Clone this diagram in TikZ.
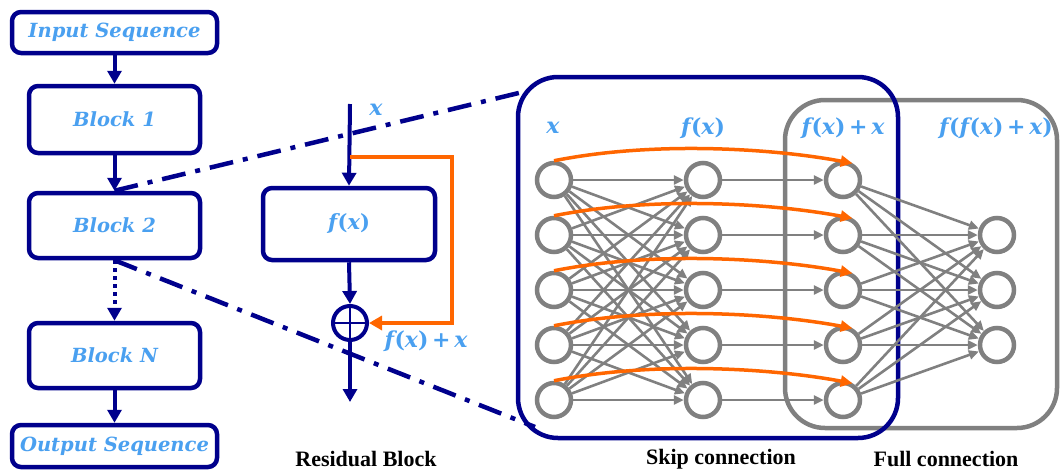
\documentclass[tikz,border=0pt]{standalone}
\usepackage{fontspec}
\newfontfamily\capfont{Liberation Serif}
\newfontfamily\blfont{DejaVu Serif}
\usetikzlibrary{arrows.meta,calc}
\definecolor{navyb}{RGB}{0,0,140}
\definecolor{skyt}{RGB}{74,160,240}
\definecolor{orng}{RGB}{255,102,0}
\definecolor{grayn}{RGB}{128,128,128}
% italic variables inside upright bold formulas
\newcommand\vf{{\itshape f\kern0.5pt}}
\newcommand\vx{{\itshape x}}
\newcommand\pl{\,+\,}
\begin{document}
\begin{tikzpicture}[x=1pt,y=-1pt,
  blk/.style={draw=navyb, line width=4.5pt, rounded corners=9pt, fill=white,
    text=skyt, inner sep=0pt, font=\fontsize{19.5}{24}\selectfont\blfont\bfseries\itshape},
  flow/.style={draw=navyb, line width=4pt, -{Triangle[length=13pt,width=14pt]}},
  dflow/.style={flow, dash pattern=on 4pt off 4pt},
  zoomline/.style={draw=navyb, line width=4.5pt, dash pattern=on 24pt off 10pt on 5pt off 10pt},
  lbl/.style={text=skyt, inner sep=0pt, font=\fontsize{22}{26}\selectfont\blfont\bfseries},
  captext/.style={inner sep=0pt, font=\fontsize{22}{26}\selectfont\capfont\bfseries},
  neuron/.style={circle, draw=grayn, line width=4.5pt, fill=white, minimum size=34pt, inner sep=0pt},
  conn/.style={draw=grayn, line width=2.6pt, -{Triangle[length=10pt,width=9pt]}},
  skiparc/.style={draw=orng, line width=3.5pt, -{Triangle[length=12pt,width=11pt]}},
  res/.style={draw=orng, line width=4pt, -{Triangle[length=13pt,width=14pt]}},
  region/.style={rounded corners=40pt, line width=4.5pt, inner sep=0pt},
]
\useasboundingbox (0,0) rectangle (1063,472);

% ---- block stack ----
\node[blk, minimum width=205pt, minimum height=41pt] (in) at (114.5,32.5) {Input Sequence};
\node[blk, minimum width=171pt, minimum height=67pt] (b1) at (114.5,119.5) {Block 1};
\node[blk, minimum width=171pt, minimum height=65pt] (b2) at (114.5,225.5) {Block 2};
\node[blk, minimum width=171pt, minimum height=65pt] (bn) at (114.5,355.5) {Block N};
\node[blk, minimum width=205pt, minimum height=42pt] (out) at (114.5,446) {Output Sequence};
\draw[flow] (in) -- (b1);
\draw[flow] (b1) -- (b2);
\draw[dflow] (b2) -- (bn);
\draw[flow] (bn) -- (out);

% ---- regions of the network ----
\node[region, draw=grayn, minimum width=272pt, minimum height=328pt] (full) at (921,264) {};
\node[region, draw=navyb, minimum width=380pt, minimum height=361pt] (skip) at (708,257.5) {};

% ---- zoom lines ----
\coordinate (zt) at (527,91);
\coordinate (zb) at (535,427);
\draw[zoomline] (b2.north) -- (zt);
\draw[zoomline] (b2.south) -- (zb);

% ---- residual block ----
\coordinate (rin) at (350,104);
\coordinate (rsplit) at (350,157);
\coordinate (rturn) at (452,157);
\coordinate (rout) at (350,402);
\node[blk, minimum width=172pt, minimum height=72pt, font=\fontsize{21}{25}\selectfont\blfont\bfseries] (fx) at (349,224) {\vf(\vx)};
\node[circle, draw=navyb, line width=4pt, minimum size=34pt, inner sep=0pt, fill=white,
  path picture={\draw[navyb, line width=2pt]
    (path picture bounding box.north) -- (path picture bounding box.south)
    (path picture bounding box.west) -- (path picture bounding box.east);}] (plus) at (350,323) {};
\draw[flow] (rin) -- (fx.north);
\draw[flow] (fx.south) -- (plus.north);
\draw[flow] (plus.south) -- (rout);
\draw[res] (rsplit) -- (rturn) |- (plus.east);
\node[lbl] (rx) at (376,110) {\vx};
\node[lbl] (rsum) at (426,341) {\vf(\vx)\pl\vx};

% ---- neurons ----
\foreach \i in {1,...,5} {
  \node[neuron] (a\i) at (554,{180+55*(\i-1)}) {};
  \node[neuron] (b\i) at (703,{180+55*(\i-1)}) {};
  \node[neuron] (c\i) at (843,{180+55*(\i-1)}) {};
}
\foreach \j in {1,2,3}
  \node[neuron] (d\j) at (997,{235+55*(\j-1)}) {};

\foreach \i in {1,...,5} {
  \foreach \j in {1,...,5} \draw[conn] (a\i) -- (b\j);
  \draw[conn] (b\i) -- (c\i);
  \foreach \j in {1,2,3} \draw[conn] (c\i) -- (d\j);
}
\foreach \i in {1,...,5}
  \draw[skiparc] (a\i.north) .. controls +(100,-20) and +(-80,-15) .. (c\i.60);

% ---- layer labels ----
\node[lbl] (lx) at (553,128) {\vx};
\node[lbl] (lf) at (703,128) {\vf(\vx)};
\node[lbl] (ls) at (843,128) {\vf(\vx)\pl\vx};
\node[lbl] (lff) at (996,128) {\vf(\vf(\vx)\pl\vx)};

% ---- captions ----
\node[captext] (capres) at (366,459) {Residual Block};
\node[captext] (capskip) at (721,459) {Skip connection};
\node[captext] (capfull) at (946,459) {Full connection};
\end{tikzpicture}
\end{document}
